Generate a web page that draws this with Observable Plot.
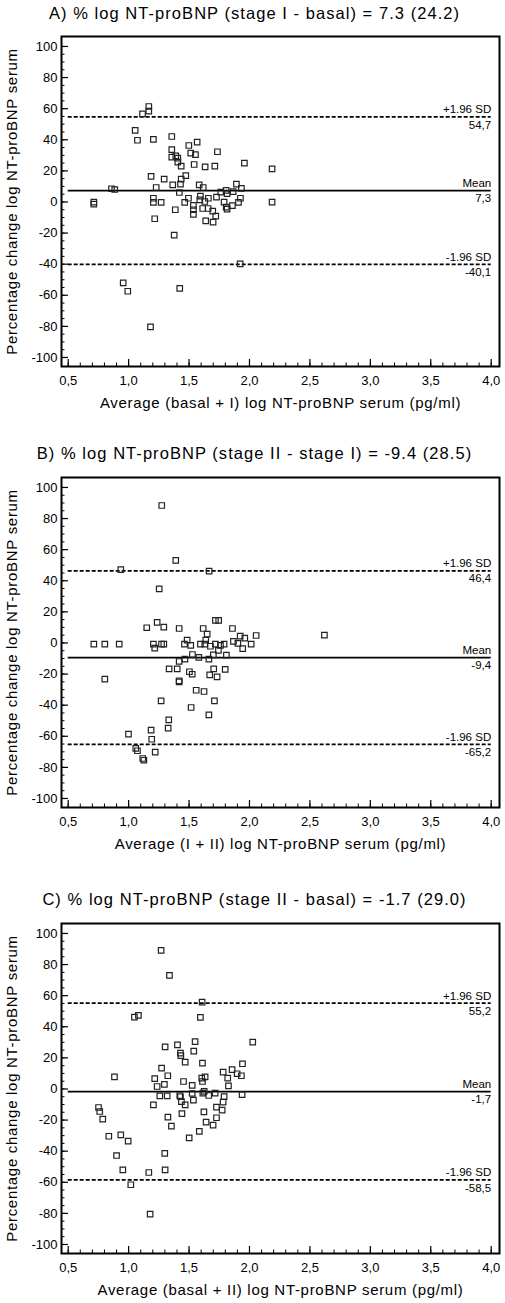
<!DOCTYPE html>
<html><head><meta charset="utf-8">
<script src="https://cdn.jsdelivr.net/npm/d3@7"></script>
<script src="https://cdn.jsdelivr.net/npm/@observablehq/plot@0.6"></script>
<style>
body{margin:0;background:#fff;}
#root{position:relative;width:505px;height:1303px;overflow:hidden;font-family:"Liberation Sans",Arial,sans-serif;}
.title{position:absolute;left:2px;width:505px;text-align:center;font-size:16.5px;letter-spacing:1.05px;line-height:16px;color:#000;white-space:nowrap;}
.panel{position:absolute;left:0;}
</style></head><body><div id="root"></div>
<script>
// ---------- data ----------
const xTicks = [0.5, 1.0, 1.5, 2.0, 2.5, 3.0, 3.5, 4.0];
const yTicks = [-100, -80, -60, -40, -20, 0, 20, 40, 60, 80, 100];
const panelTitles = [
  "A) % log NT-proBNP (stage I - basal) = 7.3 (24.2)",
  "B) % log NT-proBNP (stage II - stage I) = -9.4 (28.5)",
  "C) % log NT-proBNP (stage II - basal) = -1.7 (29.0)"
];
const xLabels = [
  "Average (basal + I) log NT-proBNP serum (pg/ml)",
  "Average (I + II) log NT-proBNP serum (pg/ml)",
  "Average (basal + II) log NT-proBNP serum (pg/ml)"
];
const yLabel = "Percentage change log NT-proBNP serum";
const limitNames = ["+1.96 SD", "Mean", "-1.96 SD"];
const statsA = [54.7, 7.3, -40.1];
const statsB = [46.4, -9.4, -65.2];
const statsC = [55.2, -1.7, -58.5];

const pointsA = [[1.167,61.4],[1.167,58.4],[1.115,56.7],[1.054,46.0],[1.073,39.7],[1.205,40.2],[1.357,42.1],[1.498,36.3],[1.567,38.5],[1.357,33.6],[1.357,28.8],[1.39,29.7],[1.407,28.2],[1.407,25.6],[1.435,23.0],[1.514,31.4],[1.553,30.5],[1.735,32.3],[1.542,24.1],[1.633,22.6],[1.713,23.0],[1.958,25.0],[2.187,21.3],[1.186,16.4],[1.294,14.7],[1.473,17.0],[1.435,14.7],[1.365,11.0],[1.429,11.5],[1.228,9.3],[0.858,8.5],[0.885,8.0],[1.584,11.0],[1.617,9.3],[1.892,11.5],[1.933,8.7],[1.762,6.3],[1.807,7.4],[1.815,5.3],[1.865,6.6],[1.42,6.1],[1.727,3.1],[1.925,2.4],[1.495,2.4],[1.594,3.7],[1.66,2.4],[1.205,2.4],[0.712,-0.1],[0.712,-1.4],[1.205,-0.3],[1.269,-0.3],[1.464,-0.3],[1.536,-2.2],[1.536,-5.0],[1.536,-8.0],[1.589,1.4],[1.63,0.3],[1.613,-4.2],[1.658,-4.2],[1.696,-5.9],[1.721,-9.1],[1.638,-12.1],[1.699,-13.0],[1.79,-0.1],[1.807,-3.3],[1.815,-4.6],[1.859,-2.4],[1.909,-0.3],[2.187,-0.1],[1.386,-5.0],[1.216,-10.8],[1.377,-21.3],[1.923,-39.8],[0.955,-52.0],[0.993,-57.4],[1.423,-55.6],[1.181,-80.3]];

const pointsB = [[1.274,88.4],[1.39,53.1],[0.935,47.1],[1.666,46.2],[1.253,34.8],[1.15,9.8],[1.236,13.2],[1.291,10.2],[1.418,9.3],[1.617,9.3],[1.65,5.7],[1.718,14.5],[1.745,14.5],[1.859,9.3],[1.923,4.4],[1.961,3.1],[2.055,4.8],[1.867,1.0],[1.904,-0.3],[2.014,-0.8],[1.944,-3.7],[0.712,-0.8],[0.803,-0.8],[0.922,-0.8],[1.205,-0.8],[1.272,-0.8],[1.291,-0.8],[1.216,-3.3],[1.462,-0.8],[1.484,1.8],[1.514,-1.6],[1.594,-0.8],[1.63,-0.8],[1.638,1.8],[1.677,-2.1],[1.718,-0.8],[1.76,-1.6],[1.79,-0.8],[1.743,-4.8],[1.701,-7.6],[1.809,-7.8],[1.528,-7.4],[1.581,-9.3],[1.664,-10.4],[1.466,-10.4],[1.418,-11.9],[0.803,-23.3],[1.335,-16.6],[1.402,-16.6],[1.704,-16.6],[1.799,-17.0],[1.503,-18.5],[1.526,-20.1],[1.671,-20.5],[1.732,-21.8],[1.418,-24.3],[1.418,-25.0],[1.559,-30.4],[1.624,-31.2],[1.269,-37.2],[1.71,-37.2],[1.517,-41.5],[1.664,-46.2],[1.332,-49.4],[1.327,-54.8],[1.186,-56.1],[0.999,-58.6],[1.191,-61.9],[1.059,-67.8],[1.073,-69.3],[1.22,-70.2],[1.117,-74.3],[1.126,-75.4],[2.62,5.0]];

const pointsC = [[1.269,89.1],[1.338,73.0],[1.608,55.8],[1.048,46.2],[1.081,47.3],[1.594,46.0],[2.027,30.1],[1.302,27.1],[1.404,28.4],[1.55,30.5],[1.539,24.3],[1.429,23.0],[1.432,21.5],[1.468,17.2],[1.611,16.6],[1.942,16.2],[1.273,13.4],[1.782,10.8],[1.856,12.5],[1.898,9.8],[1.933,8.5],[1.82,7.0],[0.883,7.8],[1.324,8.5],[1.216,6.6],[1.633,7.8],[1.605,7.0],[1.611,4.8],[1.454,4.8],[1.296,2.9],[1.236,1.6],[1.526,2.3],[1.826,2.0],[1.625,-1.6],[1.614,-2.7],[1.526,-2.9],[1.716,-2.7],[1.663,-4.2],[1.423,-4.2],[1.429,-5.0],[1.258,-4.5],[1.319,-4.5],[1.79,-4.9],[1.939,-3.6],[1.536,-7.2],[1.437,-8.2],[1.468,-10.2],[1.205,-10.2],[1.782,-8.5],[1.727,-11.7],[1.774,-13.6],[1.623,-14.7],[1.441,-15.9],[1.325,-18.1],[1.727,-18.5],[1.641,-21.3],[1.699,-23.3],[1.354,-23.9],[1.585,-27.3],[1.501,-31.4],[0.751,-11.9],[0.761,-14.5],[0.786,-19.4],[0.836,-30.4],[0.935,-29.5],[0.996,-33.6],[0.9,-42.8],[1.299,-41.4],[0.952,-52.0],[1.167,-53.7],[1.302,-52.0],[1.018,-61.6],[1.178,-80.5]];

// ---------- layout ----------
const W = 505;
const frameTops = [36, 476.5, 922.5];
const mTop = 10, mBottom = 60, mLeft = 61, mRight = 6, frameH = 330;
const xDomain = [0.4446, 4.0687];
const yDomain = [-105.8, 106.4];
const FONT = '"Liberation Sans", Arial, sans-serif';
const comma = d => d.toFixed(1).replace(".", ",");

const xMinor = d3.range(5, 41).map(i => i / 10);
const yMinor = d3.range(-100, 101, 5);
const pxX = (xDomain[1] - xDomain[0]) / (W - mLeft - mRight);
const pxY = (yDomain[1] - yDomain[0]) / frameH;

const root = document.getElementById("root");
const panels = [
  {title: panelTitles[0], xLabel: xLabels[0], stats: statsA, points: pointsA},
  {title: panelTitles[1], xLabel: xLabels[1], stats: statsB, points: pointsB},
  {title: panelTitles[2], xLabel: xLabels[2], stats: statsC, points: pointsC}
];

panels.forEach((p, i) => {
  const top = frameTops[i];
  const t = document.createElement("div");
  t.className = "title";
  t.textContent = p.title;
  t.style.top = (top - 18 - 13.5) + "px";
  root.appendChild(t);

  const lim = limitNames.map((name, k) => ({name, v: p.stats[k]}));
  const chart = Plot.plot({
    width: W,
    height: mTop + frameH + mBottom,
    marginTop: mTop, marginBottom: mBottom, marginLeft: mLeft, marginRight: mRight,
    style: {fontFamily: FONT, fontSize: "12px", background: "#fff", color: "#000", overflow: "visible"},
    x: {domain: xDomain, nice: false},
    y: {domain: yDomain, nice: false},
    marks: [
      Plot.ruleX(xMinor, {x: d => d, y1: yDomain[0], y2: yDomain[0] + 3.5 * pxY, stroke: "#000", strokeWidth: 1}),
      Plot.ruleX(xTicks, {x: d => d, y1: yDomain[0], y2: yDomain[0] + 7 * pxY, stroke: "#000", strokeWidth: 1.2}),
      Plot.ruleY(yMinor, {y: d => d, x1: xDomain[0], x2: xDomain[0] + 3.5 * pxX, stroke: "#000", strokeWidth: 1}),
      Plot.ruleY(yTicks, {y: d => d, x1: xDomain[0], x2: xDomain[0] + 7 * pxX, stroke: "#000", strokeWidth: 1.2}),
      Plot.axisX(xTicks, {tickSize: 0, tickPadding: 9, tickFormat: comma, fontSize: 13, label: null}),
      Plot.axisY(yTicks, {tickSize: 0, tickPadding: 4, tickFormat: d => `${d}`, fontSize: 13, label: null}),
      Plot.ruleY([lim[1]], {y: "v", x1: xTicks[0], x2: xTicks[xTicks.length - 1], stroke: "#000", strokeWidth: 1.8}),
      Plot.ruleY([lim[0], lim[2]], {y: "v", x1: xTicks[0], x2: xTicks[xTicks.length - 1], stroke: "#000", strokeWidth: 1.8, strokeDasharray: "4,2"}),
      Plot.dot(p.points, {x: d => d[0], y: d => d[1], symbol: "square", r: 3.1, stroke: "#222", strokeWidth: 1.2, fill: "none"}),
      Plot.text(lim, {x: xTicks[xTicks.length - 1], y: "v", text: "name", textAnchor: "end", lineAnchor: "bottom", dy: -3.5, fontSize: 11.5}),
      Plot.text(lim, {x: xTicks[xTicks.length - 1], y: "v", text: d => comma(d.v), textAnchor: "end", lineAnchor: "top", dy: 3.5, fontSize: 11.5}),
      Plot.text([p.xLabel], {frameAnchor: "bottom", text: d => d, textAnchor: "middle", lineAnchor: "bottom", dy: 41.5, fontSize: 15}),
      Plot.text([yLabel], {frameAnchor: "left", text: d => d, textAnchor: "middle", rotate: -90, lineAnchor: "bottom", dx: -45, fontSize: 15}),
      Plot.frame({stroke: "#000", strokeWidth: 2})
    ]
  });
  chart.querySelectorAll("text").forEach(el => {
    if (el.textContent === p.xLabel || el.textContent === yLabel) {
      el.setAttribute("letter-spacing", "0.7");
    }
  });
  chart.classList.add("panel");
  chart.style.position = "absolute";
  chart.style.top = (top - mTop) + "px";
  chart.style.left = "0px";
  root.appendChild(chart);
});
</script>
</body></html>
